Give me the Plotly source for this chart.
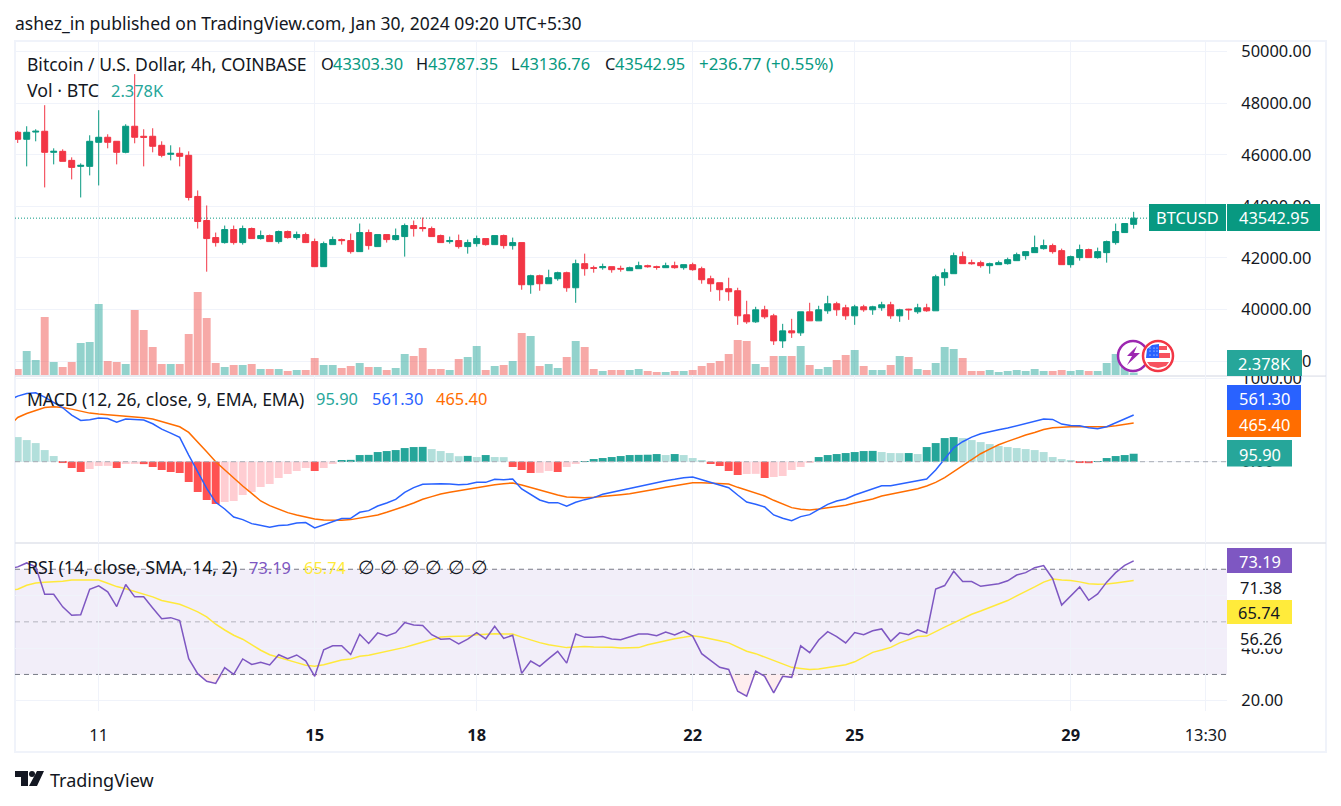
import plotly.graph_objects as go

# ---------- data ----------
opens = [46872,46600,46880,46911,46094,46133,45783,45550,45550,46483,
46678,46522,46094,47105,46717,46717,46367,46017,46056,45978,
44384,43451,42790,42595,43101,42595,43140,42751,42867,42634,
43023,42790,42906,42634,41662,42517,42712,42673,42245,42984,
42440,42906,42712,42829,43256,43178,43139,42867,42634,42673,
42440,42556,42751,42517,42867,42478,42595,40962,41312,41001,
41195,41429,40845,41779,41623,41623,41662,41595,41506,41584,
41701,41662,41623,41701,41623,41740,41584,41195,41040,40807,
40729,39796,39524,39990,39757,38785,39174,39096,39912,39562,
39951,40224,40068,39757,40107,39990,40068,40185,39757,40016,
39913,40068,39951,41234,41390,42051,41818,41818,41701,41740,
41779,41895,42090,42206,42362,42479,42284,41740,42012,42323,
42012,42206,42595,42984,43303.30]
highs = [46924,47105,46989,47922,46250,46211,45900,45667,46755,47727,
46794,46522,47183,49127,46989,47028,46522,46367,46289,46133,
44617,44034,42984,43256,43256,43256,43178,43062,42906,43062,
43062,43023,42984,42751,42634,42829,42751,42945,43334,43101,
42906,42906,43140,43334,43450,43567,43217,42906,42828,42906,
42712,42867,42751,42867,42906,42789,42595,41351,41351,41545,
41468,41468,41934,42167,41701,41779,41662,41701,41662,41856,
41740,41701,41817,41856,41740,41817,41662,41312,41040,41234,
40845,40340,40107,40146,39835,39446,39640,39912,40262,40146,
40535,40301,40185,40185,40185,40146,40301,40301,40029,40029,
40224,40224,41351,41584,42206,42245,41934,41895,41818,41895,
42012,42206,42245,42867,42712,42556,42362,42090,42517,42362,
42401,42673,43334,43334,43787.35]
lows = [46457,45550,46522,44734,45628,45745,45045,44345,45200,44811,
46250,45628,46056,46444,45550,46094,45900,45783,45550,44228,
43140,41468,42440,42556,42517,42517,42751,42712,42634,42556,
42751,42712,42595,41662,41662,42517,42517,42168,42245,42323,
42440,42595,42673,42051,42828,43023,42828,42595,42556,42362,
42167,42440,42478,42517,42362,42323,40768,40612,40729,41001,
41118,40690,40262,41312,41429,41545,41429,41468,41506,41584,
41623,41545,41623,41584,41545,41506,41001,40690,40340,40340,
39407,39446,39485,39640,38629,38513,38901,38979,39562,39562,
39835,39757,39601,39407,39913,39796,39951,39640,39524,39601,
39835,39913,39951,40923,41390,41779,41740,41623,41390,41740,
41740,41895,41934,42206,42323,42168,41740,41623,41895,42012,
41973,41818,42517,42984,43136.76]
closes = [46600,46872,46911,46094,46133,45745,45511,45589,46522,46678,
46483,46094,47105,46678,46678,46328,45978,46056,45939,44345,
43412,42751,42595,43101,42595,43140,42751,42867,42634,43023,
42790,42906,42595,41662,42556,42712,42673,42245,42984,42479,
42906,42712,42867,43256,43139,43139,42828,42595,42673,42440,
42595,42751,42517,42867,42478,42595,40962,41312,41001,41234,
41429,40845,41779,41584,41600,41662,41545,41570,41623,41701,
41662,41635,41701,41623,41740,41545,41156,41001,40768,40690,
39757,39524,39990,39718,38785,39174,39096,39912,39562,39990,
40224,39990,39757,40107,39990,40107,40185,39757,39990,39990,
40068,39951,41273,41429,42090,41779,41779,41701,41779,41818,
41934,42129,42245,42401,42479,42245,41740,42051,42323,42012,
42245,42634,43023,43334,43542.95]
volume_k = [6,24,15,58,13,8,13,32,33,71,
14,13,11,65,45,28,11,11,11,41,
83,57,12,8,10,10,11,6,6,6,
4,5,5,17,10,10,7,9,12,8,
8,5,7,21,19,27,6,6,5,16,
18,29,5,9,10,14,42,39,9,11,
7,18,34,28,6,4,5,5,5,6,
4,3,3,4,4,5,9,12,14,21,
35,34,11,8,19,19,19,29,10,6,
8,15,20,25,9,5,5,10,19,18,
6,5,12,28,26,17,4,4,5,3,
4,5,4,6,4,4,5,4,5,4,
4,12,21,15,2.378]
macd_hist = [296,260,224,140,68,-16,-76,-124,-88,-52,
-50,-76,-28,-27,-29,-64,-100,-124,-136,-244,
-364,-460,-508,-484,-472,-400,-364,-304,-268,-196,
-148,-112,-76,-112,-76,-28,20,22,80,82,
116,128,140,164,176,178,152,128,104,66,
70,56,80,56,55,-64,-100,-136,-134,-112,
-124,-64,-28,8,32,44,56,68,80,82,
84,92,80,92,80,44,20,-28,-52,-112,
-160,-148,-146,-196,-184,-172,-100,-64,-4,56,
80,92,104,116,128,130,116,104,103,104,
92,176,224,284,296,284,260,236,212,188,
176,164,152,140,116,56,32,20,-16,-18,
8,44,68,80,95.90]
# macd lines start one bar left of the first candle
macd_line = [740,788,820,828,776,712,648,560,496,504,524,
520,476,512,508,500,456,392,344,292,80,
-120,-320,-488,-568,-664,-696,-744,-768,-788,-768,
-760,-736,-732,-796,-760,-720,-684,-680,-608,-588,
-532,-496,-452,-368,-312,-272,-264,-264,-268,-276,
-272,-248,-248,-212,-216,-208,-328,-392,-460,-492,
-492,-536,-488,-456,-432,-392,-368,-348,-324,-292,
-268,-252,-228,-212,-192,-184,-216,-252,-280,-312,
-400,-484,-512,-544,-640,-680,-708,-660,-636,-572,
-512,-472,-448,-400,-364,-328,-288,-288,-268,-252,
-232,-208,-100,32,168,240,296,336,364,384,
404,432,456,488,512,508,452,436,432,408,
396,420,464,516,561.30]
signal_line = [420,532,580,620,652,660,652,632,604,584,572,
564,548,540,532,528,512,480,452,420,352,
240,120,0,-96,-200,-292,-380,-472,-528,-572,
-612,-640,-664,-688,-700,-704,-704,-696,-680,-664,
-640,-608,-576,-536,-496,-452,-420,-388,-368,-348,
-328,-312,-292,-276,-264,-256,-280,-312,-344,-372,
-400,-424,-432,-432,-428,-420,-408,-396,-384,-368,
-348,-328,-308,-288,-264,-252,-252,-256,-260,-268,
-308,-344,-376,-412,-464,-512,-552,-572,-580,-568,
-556,-540,-524,-496,-472,-448,-412,-392,-368,-348,
-324,-292,-248,-192,-120,-40,32,96,152,204,
244,284,320,352,388,408,416,420,420,420,
416,420,432,448,465.40]
rsi_line = [70.2,70.9,72.4,70.9,60.5,60.5,55.7,52.5,52.7,62.4,63.7,
61.4,55.8,64.2,59.5,59.5,55.3,51.2,51.6,50.5,36.0,
30.3,27.4,26.6,32.6,30.0,35.9,33.8,34.6,33.6,37.5,
36.0,37.4,35.2,29.3,39.4,40.9,40.9,37.6,45.3,41.8,
45.8,44.6,45.9,49.7,48.8,48.6,45.1,43.4,43.6,41.6,
43.4,45.9,43.5,48.3,43.7,44.9,30.4,35.1,33.1,36.0,
38.8,34.3,45.4,44.1,44.1,44.4,43.5,43.2,44.2,45.4,
45.4,44.7,46.1,45.0,46.5,44.6,37.9,35.4,32.7,31.9,
23.6,21.7,31.3,29.3,23.0,29.3,28.9,40.9,38.3,43.1,
46.3,44.4,42.0,45.9,45.1,46.6,47.3,42.6,45.8,45.1,
47.0,45.8,62.5,63.8,69.2,65.3,65.3,63.5,64.0,64.5,
65.6,67.8,68.7,70.6,71.4,66.4,56.4,59.9,63.3,58.2,
60.6,65.1,68.7,71.5,73.19]
rsi_ma = [62.0,62.4,63.9,64.8,65.1,65.2,65.4,65.9,65.9,66.1,65.9,
64.7,63.4,62.6,61.5,60.6,59.5,58.1,57.4,56.7,55.3,
53.8,51.9,49.1,46.9,44.9,43.4,41.2,39.2,37.5,36.4,
35.4,34.5,33.5,33.1,33.7,34.6,35.5,35.9,36.9,37.3,
38.0,38.8,39.5,40.3,41.3,42.2,43.1,44.2,44.4,44.5,
44.6,45.1,45.4,45.5,45.4,45.4,44.2,43.1,42.1,41.3,
40.8,40.2,40.4,40.6,40.4,40.4,40.3,40.1,40.1,40.2,
41.3,42.1,43.0,43.6,44.1,44.7,44.2,43.6,42.8,42.0,
40.4,38.8,37.9,36.6,35.0,33.7,32.7,32.3,31.9,32.1,
32.6,33.2,33.7,34.8,36.6,38.4,39.3,40.3,42.0,43.2,
44.4,44.6,46.4,48.0,49.6,51.2,52.9,54.1,55.5,56.8,
58.1,59.9,61.5,63.3,65.1,66.3,65.9,65.7,65.2,64.5,
64.3,64.4,64.8,65.3,65.74]
tick_bars = [9, 33, 51, 75, 93, 117, 132]
tick_labels = ["11", "<b>15</b>", "<b>18</b>", "<b>22</b>", "<b>25</b>", "<b>29</b>", "13:30"]
price_ticks = [38000, 40000, 42000, 44000, 46000, 48000, 50000]
rsi_ticks = [20, 40, 60]
rsi_tick_labels = ["20.00", "40.00", ""]

# ---------- styling ----------
W, H = 1341, 806
FONT = "Noto Sans"
FS = 16.4      # numbers
TS = 17.5      # words
INK = "#131722"
GRID = "#f0f3fa"
UP, DOWN = "#089981", "#f23645"
TEAL = "#26a69a"
BLUE, ORANGE, PURPLE, YELLOW = "#2962ff", "#ff6d00", "#7e57c2", "#ffeb3b"

def X(p): return p / W
def Y(p): return 1 - p / H

bars = list(range(len(closes)))
line_x = list(range(-1, len(closes)))

vol_colors = ["rgba(38,166,154,0.5)" if c >= o else "rgba(239,83,80,0.5)" for o, c in zip(opens, closes)]
hist_colors = []
for k, v in enumerate(macd_hist):
    prev = macd_hist[k - 1] if k else v + 1
    if v >= 0:
        hist_colors.append(TEAL if v > prev else "#b2dfdb")
    else:
        hist_colors.append("#ffcdd2" if v > prev else "#ff5252")

fig = go.Figure()
fig.add_trace(go.Bar(x=bars, y=volume_k, marker=dict(color=vol_colors, line_width=0), width=0.88,
                     xaxis="x", yaxis="y4"))
fig.add_trace(go.Candlestick(x=bars, open=opens, high=highs, low=lows, close=closes,
                             increasing=dict(line=dict(color=UP, width=1), fillcolor=UP),
                             decreasing=dict(line=dict(color=DOWN, width=1), fillcolor=DOWN),
                             whiskerwidth=0, xaxis="x", yaxis="y"))
fig.add_trace(go.Bar(x=bars, y=macd_hist, marker=dict(color=hist_colors, line_width=0), width=0.88,
                     xaxis="x2", yaxis="y2"))
fig.add_trace(go.Scatter(x=line_x, y=signal_line, mode="lines", line=dict(color=ORANGE, width=1.5), xaxis="x2", yaxis="y2"))
fig.add_trace(go.Scatter(x=line_x, y=macd_line, mode="lines", line=dict(color=BLUE, width=1.5), xaxis="x2", yaxis="y2"))
# oversold tint between the guide and the RSI line
fig.add_trace(go.Scatter(x=line_x, y=[30] * len(line_x), mode="lines", line=dict(width=0), xaxis="x3", yaxis="y3"))
fig.add_trace(go.Scatter(x=line_x, y=[min(v, 30) for v in rsi_line], mode="lines", line=dict(width=0),
                         fill="tonexty", fillcolor="rgba(242,54,69,0.09)", xaxis="x3", yaxis="y3"))
fig.add_trace(go.Scatter(x=line_x, y=rsi_ma, mode="lines", line=dict(color="#ffe93b", width=1.5), xaxis="x3", yaxis="y3"))
fig.add_trace(go.Scatter(x=line_x, y=rsi_line, mode="lines", line=dict(color=PURPLE, width=1.5), xaxis="x3", yaxis="y3"))

xr = [-0.3, 134.37]
xcommon = dict(range=xr, domain=[X(15), X(1227)], tickmode="array", tickvals=tick_bars, ticktext=tick_labels,
               showgrid=True, gridcolor=GRID, gridwidth=1, zeroline=False, showline=False, automargin=False,
               rangeslider=dict(visible=False), tickfont=dict(family=FONT, size=FS, color=INK))
ycommon = dict(side="right", showgrid=True, gridcolor=GRID, gridwidth=1, zeroline=False, showline=False, automargin=False,
               ticks="outside", ticklen=10, tickcolor="rgba(255,255,255,0)", tickformat=".2f",
               tickfont=dict(family=FONT, size=FS, color=INK))

shapes = []
def rect(x0, y0, x1, y1, fill):
    shapes.append(dict(type="rect", xref="paper", yref="paper", x0=X(x0), x1=X(x1), y0=Y(y0), y1=Y(y1),
                       fillcolor=fill, line=dict(width=0), layer="above"))
def hline(val, yaxis, color, dash, width=1, layer="below"):
    shapes.append(dict(type="line", xref="x domain" if yaxis == "y" else f"x{yaxis[1:]} domain", yref=yaxis,
                       x0=0, x1=1, y0=val, y1=val, line=dict(color=color, dash=dash, width=width), layer=layer))
def poly(points, fill, closed=True):
    d = "M" + " L".join(f"{X(a):.5f},{Y(b):.5f}" for a, b in points) + (" Z" if closed else "")
    shapes.append(dict(type="path", xref="paper", yref="paper", path=d, fillcolor=fill, line=dict(width=0), layer="above"))
def circle(cx, cy, r, fill, line, lw):
    shapes.append(dict(type="circle", xref="paper", yref="paper", x0=X(cx - r), x1=X(cx + r), y0=Y(cy + r), y1=Y(cy - r),
                       fillcolor=fill, line=dict(color=line, width=lw), layer="above"))

# frame and pane dividers
shapes.append(dict(type="rect", xref="paper", yref="paper", x0=X(15), x1=X(1326), y0=Y(752), y1=Y(41),
                   line=dict(color=GRID, width=2), layer="below"))
for py in (376, 543):
    shapes.append(dict(type="line", xref="paper", yref="paper", x0=X(15), x1=X(1326), y0=Y(py), y1=Y(py),
                       line=dict(color="#e0e3eb", width=1.5), layer="below"))
# guides
shapes.append(dict(type="rect", xref="x3 domain", yref="y3", x0=0, x1=1, y0=30, y1=70,
                   fillcolor="rgba(126,87,194,0.1)", line=dict(width=0), layer="below"))
hline(70, "y3", "#787b86", "5px,4px")
hline(50, "y3", "rgba(120,123,134,0.5)", "5px,4px")
hline(30, "y3", "#787b86", "5px,4px")
hline(0, "y2", "#a8abb4", "5px,4px", 1, "above")
hline(closes[-1], "y", UP, "1px,2px")

# pane clipping of the scale and opaque backs of the plain RSI values
rect(1228, 368, 1325, 375.3, "#ffffff")
rect(1228, 574, 1300, 600, "#ffffff")
rect(1228, 625, 1300, 648.5, "#ffffff")

# value tags on the scale
rect(1149, 204, 1226, 231, UP)
rect(1227, 204, 1320, 231, UP)
rect(1227, 350, 1302, 376, TEAL)
rect(1227, 385, 1301, 410, BLUE)
rect(1227, 410, 1301, 437, ORANGE)
rect(1227, 440, 1292, 466.5, TEAL)
rect(1227, 548, 1292, 573, PURPLE)
rect(1227, 600, 1292, 624, YELLOW)

# bolt and flag badges
circle(1133, 356, 15, "#ffffff", "#9c27b0", 2.5)
poly([(1137, 346), (1127, 356), (1132, 356), (1127, 365), (1140, 353), (1134, 353)], "#9c27b0")
circle(1158, 356, 15, "#ffffff", DOWN, 2.5)
poly([(1147, 349), (1152, 345), (1159, 344), (1159, 358), (1146, 358)], BLUE)
rect(1159, 346, 1167, 350, "#f7525f")
rect(1159, 353, 1170, 358, "#f7525f")
poly([(1147, 362), (1169, 362), (1166, 366), (1158, 368), (1150, 366)], "#f7525f")
for dx in (1150, 1154, 1157):
    for dy in (348, 351, 355):
        circle(dx, dy, 0.6, "#ffffff", "#ffffff", 0)

# TradingView logo
poly([(15, 771), (28, 771), (28, 786), (21, 786), (21, 777), (15, 777)], INK)
circle(32, 774, 3, INK, INK, 0)
poly([(37, 771), (44, 771), (37, 786), (29, 786)], INK)

annotations = []
def label(px, py, text, color=INK, size=FS, anchor="left"):
    annotations.append(dict(xref="paper", yref="paper", x=X(px - 1 if anchor == "left" else px), y=Y(py),
                            xanchor=anchor, yanchor="middle", text=text, showarrow=False, borderpad=0,
                            font=dict(family=FONT, size=size, color=color)))

label(15, 23, "ashez_in published on TradingView.com, Jan 30, 2024 09:20 UTC+5:30", INK, TS)
label(27, 64, "Bitcoin / U.S. Dollar, 4h, COINBASE", INK, TS)
for px, t in ((321, "O"), (416, "H"), (511, "L"), (605, "C")):
    label(px, 64, t)
for px, t in ((333, "43303.30"), (428, "43787.35"), (520, "43136.76"), (615, "43542.95")):
    label(px, 64, t, UP)
label(699, 64, "+236.77 (+0.55%)", UP, 16.9)
label(27, 90, "Vol · BTC", INK, 17.8)
label(111, 90, "2.378K", TEAL)
label(27, 399, "MACD (12, 26, close, 9, EMA, EMA)", INK, TS)
label(316, 399, "95.90", TEAL)
label(372, 399, "561.30", BLUE)
label(436, 399, "465.40", ORANGE)
label(27, 567, "RSI (14, close, SMA, 14, 2)", INK, 17.8)
label(249, 567, "73.19", PURPLE)
label(304, 567, "65.74", "#ffeb3b")
for px in (366, 388, 411, 433, 456, 479):
    label(px, 567, "∅", INK, 19, "center")
label(1187.5, 217.5, "BTCUSD", "#ffffff", FS, "center")
label(1273.5, 217.5, "43542.95", "#ffffff", FS, "center")
label(1264.5, 363, "2.378K", "#ffffff", FS, "center")
label(1264, 398, "561.30", "#ffffff", FS, "center")
label(1264, 424, "465.40", "#ffffff", FS, "center")
label(1259.5, 454, "95.90", "#ffffff", FS, "center")
label(1259.5, 561, "73.19", "#ffffff", FS, "center")
label(1259.5, 612, "65.74", "#131722", FS, "center")
label(1240, 587, "71.38")
label(1240, 638, "56.26")
label(50, 780, "TradingView", INK, 18)

fig.update_layout(
    width=W, height=H, margin=dict(l=0, r=0, t=0, b=0, autoexpand=False), paper_bgcolor="#ffffff", plot_bgcolor="#ffffff",
    showlegend=False, barmode="overlay", boxgap=0.05, shapes=shapes, annotations=annotations,
    xaxis=dict(xcommon, anchor="y", showticklabels=False, ticks=""),
    xaxis2=dict(xcommon, anchor="y2", showticklabels=False, ticks=""),
    xaxis3=dict(xcommon, anchor="y3", showticklabels=True, ticks="outside", ticklen=9, tickcolor="rgba(255,255,255,0)"),
    yaxis=dict(ycommon, domain=[Y(376), Y(41)], range=[37424, 50410], tickmode="array", tickvals=price_ticks, anchor="x"),
    yaxis2=dict(ycommon, domain=[Y(543), Y(376)], range=[-977, 1030], tickmode="array", tickvals=[0, 1000], anchor="x2"),
    yaxis3=dict(ycommon, domain=[Y(711), Y(544)], range=[16.1, 79.6], tickmode="array", tickvals=rsi_ticks, ticktext=rsi_tick_labels, anchor="x3"),
    yaxis4=dict(overlaying="y", side="right", range=[-1, 334], showgrid=False, zeroline=False, showticklabels=False, ticks="", automargin=False, anchor="x"),
)

fig.write_html("out.html", config=dict(displayModeBar=False), post_script="document.body.style.margin='0';")
